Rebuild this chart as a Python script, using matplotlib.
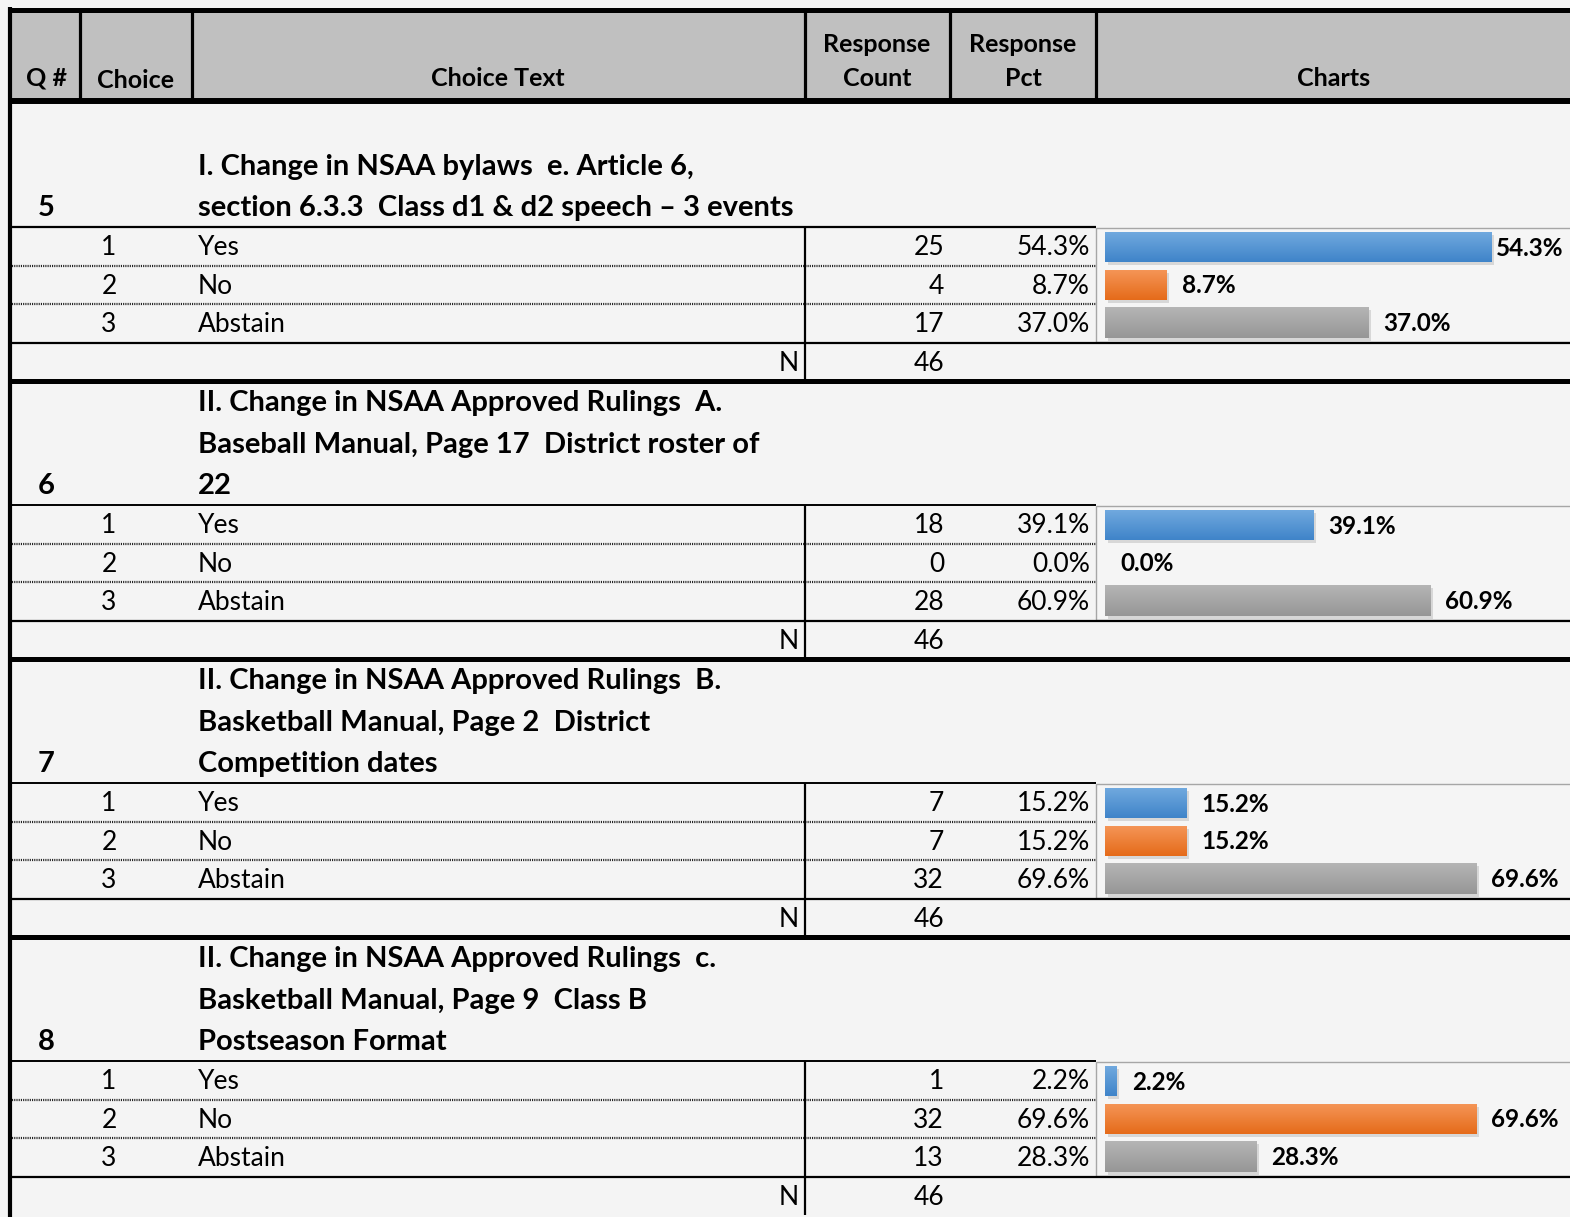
import numpy as np
import matplotlib.pyplot as plt
from matplotlib.patches import Rectangle
from matplotlib.colors import LinearSegmentedColormap
from matplotlib import transforms

plt.rcParams['font.family'] = ['Lato', 'DejaVu Sans']

# survey data
q_numbers = [5, 6, 7, 8]
q_titles = [
    ["I. Change in NSAA bylaws  e. Article 6,",
     "section 6.3.3  Class d1 & d2 speech \u2013 3 events"],
    ["II. Change in NSAA Approved Rulings  A.",
     "Baseball Manual, Page 17  District roster of",
     "22"],
    ["II. Change in NSAA Approved Rulings  B.",
     "Basketball Manual, Page 2  District",
     "Competition dates"],
    ["II. Change in NSAA Approved Rulings  c.",
     "Basketball Manual, Page 9  Class B",
     "Postseason Format"],
]
choice_ids = [1, 2, 3]
choices = ["Yes", "No", "Abstain"]
counts = [[25, 4, 17], [18, 0, 28], [7, 7, 32], [1, 32, 13]]
pcts = [[54.3, 8.7, 37.0], [39.1, 0.0, 60.9], [15.2, 15.2, 69.6], [2.2, 69.6, 28.3]]
n_total = [46, 46, 46, 46]
axis_max = [60, 80, 80, 80]  # excel auto axis max per chart

headers = ["Q #", "Choice", "Choice Text", "Response\nCount", "Response\nPct", "Charts"]

W, H = 1570, 1217
BG = '#f4f4f4'
bar_grads = [('#72aadf', '#3f84c9'), ('#f59658', '#e56b1a'), ('#b5b5b5', '#969696')]

fig = plt.figure(figsize=(W / 100, H / 100), dpi=100, facecolor=BG)
ax = fig.add_axes([0, 0, 1, 1])
ax.set_xlim(0, W)
ax.set_ylim(H, 0)
ax.axis('off')

FS = 19       # body text
FS_T = 21     # question titles
FS_H = 18     # header
FS_L = 17.5   # bar labels

# header
ax.add_patch(Rectangle((12, 12), W, 88, facecolor='#c0c0c0', edgecolor='none'))
ax.plot([8, W], [9.5, 9.5], color='black', lw=3.6, solid_capstyle='butt')
ax.plot([8, W], [101, 101], color='black', lw=4.3, solid_capstyle='butt')
for x in [80, 192, 805, 950, 1096]:
    ax.plot([x, x], [12, 99], color='black', lw=2.3, solid_capstyle='butt')
hdr_x = [46, 136, 498, 877, 1023, 1334]
for x, h in zip(hdr_x, headers):
    lines = h.split('\n')
    if len(lines) == 2:
        ax.text(x, 44, lines[0], ha='center', va='center', fontsize=FS_H, fontweight='bold')
        ax.text(x, 78, lines[1], ha='center', va='center', fontsize=FS_H, fontweight='bold')
    else:
        yy = 80 if h == "Choice" else 78
        ax.text(x, yy, h, ha='center', va='center', fontsize=FS_H, fontweight='bold')

SEC_H = 278
TITLE_H = 124
ROW_H = 38.5

for k in range(len(q_numbers)):
    s = 103 + SEC_H * k
    tb = s + TITLE_H  # top of the data rows
    # question title
    title = q_titles[k]
    for j, line in enumerate(title):
        yy = tb - 19 - 41.5 * (len(title) - 1 - j)
        ax.text(198, yy, line, ha='left', va='center', fontsize=FS_T, fontweight='bold')
    ax.text(46, tb - 19, str(q_numbers[k]), ha='center', va='center', fontsize=FS_T, fontweight='bold')

    # table lines
    ax.plot([12, 1096], [tb, tb], color='black', lw=1.6 if k == 0 else 1.4, solid_capstyle='butt')
    for i in range(1, 3):
        yy = tb + ROW_H * i
        ax.plot([12, 1096], [yy, yy], color='#222222', lw=1.6, dashes=(0.5, 0.5))
    rb = tb + ROW_H * 3
    ax.plot([12, W], [rb, rb], color='black', lw=1.6, solid_capstyle='butt')
    se = s + SEC_H
    if se < H - 5:
        ax.plot([8, W], [se, se], color='black', lw=3.6, solid_capstyle='butt')
    ax.plot([805, 805], [tb, min(se, H)], color='black', lw=1.6, solid_capstyle='butt')

    # rows
    for i in range(3):
        yc = tb + ROW_H * (i + 0.5) + 1.5
        ax.text(109, yc, str(choice_ids[i]), ha='center', va='center', fontsize=FS)
        ax.text(198, yc, choices[i], ha='left', va='center', fontsize=FS)
        ax.text(944, yc, str(counts[k][i]), ha='right', va='center', fontsize=FS)
        ax.text(1090, yc, f"{pcts[k][i]:.1f}%", ha='right', va='center', fontsize=FS)
    ny = rb + 21
    ax.text(799, ny, "N", ha='right', va='center', fontsize=FS)
    ax.text(944, ny, str(n_total[k]), ha='right', va='center', fontsize=FS)

    # chart box
    ax.add_patch(Rectangle((1096, tb + 1), W, rb - tb - 2, facecolor='#f5f5f5',
                           edgecolor='#a6a6a6', lw=1))

    # bar chart
    bx0, bx1 = 1105, 1532
    bax = fig.add_axes([bx0 / W, 1 - (rb - 1) / H, (bx1 - bx0) / W, (rb - tb - 2) / H])
    bax.set_xlim(0, axis_max[k])
    bax.set_ylim(2.5, -0.5)
    bax.axis('off')
    bax.patch.set_alpha(0)
    ypos = np.arange(3)
    shadow = transforms.offset_copy(bax.transData, fig=fig, x=2.5, y=-3, units='dots')
    bax.barh(ypos, pcts[k], height=0.8, color='black', alpha=0.12, transform=shadow, zorder=1)
    bars = bax.barh(ypos, pcts[k], height=0.8, color=[g[1] for g in bar_grads], zorder=2)
    for i, b in enumerate(bars):
        v = pcts[k][i]
        if v > 0:
            cm = LinearSegmentedColormap.from_list('g', [bar_grads[i][0], bar_grads[i][1]])
            grad = np.linspace(0, 1, 64).reshape(-1, 1)
            im = bax.imshow(grad, cmap=cm, aspect='auto', zorder=3,
                            extent=(0, v, i + 0.4, i - 0.4), interpolation='bilinear')
            im.set_clip_path(b)
        # data label, pulled back inside when it would run off the chart
        end_px = bx0 + v / axis_max[k] * (bx1 - bx0)
        if end_px + 15 + 66 > 1563:
            bax.text((1563 - bx0) / (bx1 - bx0) * axis_max[k], i + 0.03, f"{v:.1f}%", ha='right',
                     va='center', fontsize=FS_L, fontweight='bold', zorder=4)
        else:
            bax.annotate(f"{v:.1f}%", (v, i + 0.03), xytext=(15 * 0.72, 0), textcoords='offset points',
                         ha='left', va='center', fontsize=FS_L, fontweight='bold', zorder=4)
    bax.set_xlim(0, axis_max[k])
    bax.set_ylim(2.5, -0.5)

# left border
ax.plot([10, 10], [7, H], color='black', lw=3, solid_capstyle='butt')

fig.savefig('out.png', dpi=100, facecolor=BG)
